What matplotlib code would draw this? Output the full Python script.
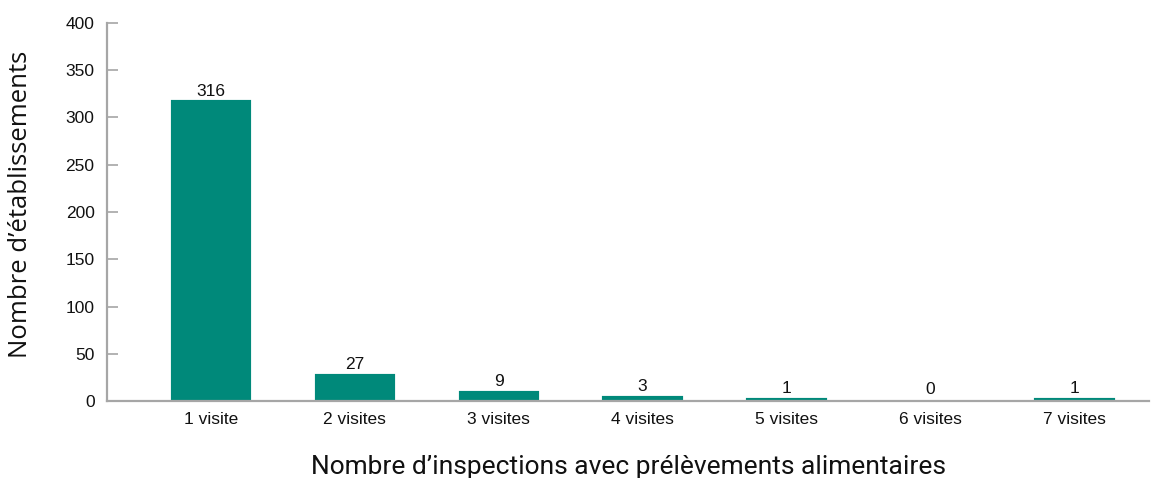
import matplotlib.pyplot as plt

categories = ["1 visite", "2 visites", "3 visites", "4 visites", "5 visites", "6 visites", "7 visites"]
counts = [316, 27, 9, 3, 1, 0, 1]
yticks = [0, 50, 100, 150, 200, 250, 300, 350, 400]

teal = "#00897A"
grey = "#A6A6A6"

fig = plt.figure(figsize=(11.57, 4.78), dpi=100)
ax = fig.add_axes([0.0925, 0.161, 0.901, 0.791])

x = range(len(categories))
bars = ax.bar(x, counts, width=0.53, color=teal, edgecolor=teal, linewidth=3.0, zorder=2)
# no visible bar for zero
for b, v in zip(bars, counts):
    if v == 0:
        b.set_linewidth(0)

for xi, v in zip(x, counts):
    ax.text(xi, v + 4, str(v), ha="center", va="bottom", fontsize=12.5,
            family="Liberation Sans", color="#111111")

ax.set_xlim(-0.72, 6.52)
ax.set_ylim(0, 400)
ax.set_yticks(yticks)
ax.set_xticks(list(x))
ax.set_xticklabels(categories)

for s in ["top", "right"]:
    ax.spines[s].set_visible(False)
for s in ["left", "bottom"]:
    ax.spines[s].set_color(grey)
    ax.spines[s].set_linewidth(1.6)
    ax.spines[s].set_zorder(3)

ax.tick_params(axis="y", direction="in", length=8, width=1.2, color=grey,
               labelsize=12.5, pad=9)
ax.tick_params(axis="x", length=0, labelsize=12.5, pad=8)
for lab in ax.get_xticklabels() + ax.get_yticklabels():
    lab.set_family("Liberation Sans")
    lab.set_color("#111111")

ax.set_ylabel("Nombre d\u2019établissements", fontsize=18.5, family="Open Sans",
              color="#111111")
ax.yaxis.set_label_coords(-0.071, 0.52)
ax.set_xlabel("Nombre d\u2019inspections avec prélèvements alimentaires", fontsize=19,
              family="Roboto", labelpad=20, color="#111111")

plt.savefig("out.png", dpi=100)
